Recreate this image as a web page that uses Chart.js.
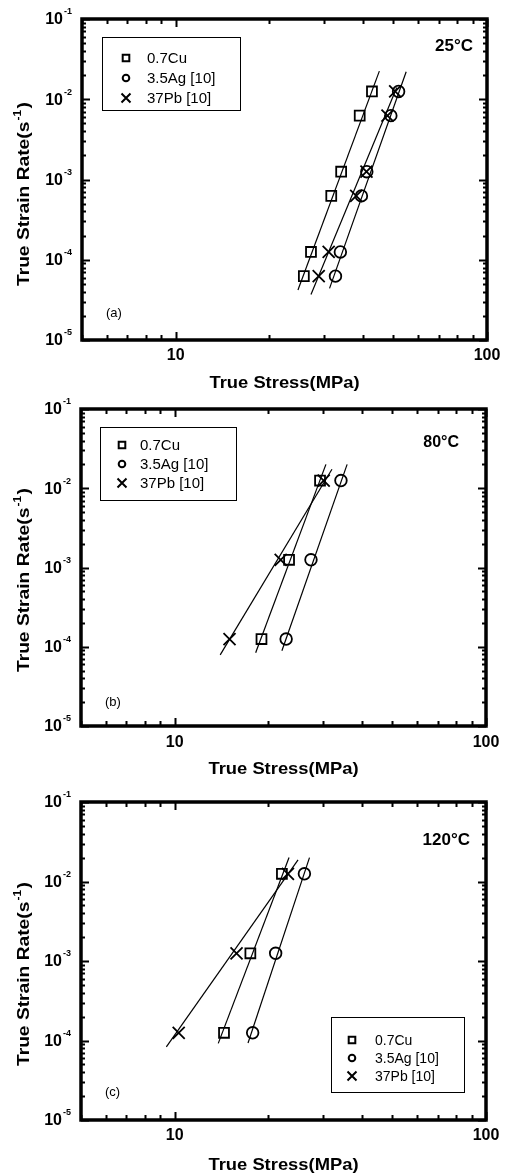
<!DOCTYPE html>
<html>
<head>
<meta charset="utf-8">
<script src="https://cdn.jsdelivr.net/npm/chart.js@4.4.1/dist/chart.umd.min.js"></script>
<style>
  body { margin: 0; background: #fff; width: 505px; height: 1174px; position: relative; overflow: hidden; }
  canvas { position: absolute; left: 0; }
</style>
</head>
<body>
<canvas id="panelA" width="505" height="391" style="top:0px"></canvas>
<canvas id="panelB" width="505" height="391" style="top:391px"></canvas>
<canvas id="panelC" width="505" height="392" style="top:782px"></canvas>
<script>
// series names / markers
const seriesLabels = ['0.7Cu', '3.5Ag [10]', '37Pb [10]'];
const seriesStyles = ['rect', 'circle', 'crossRot'];

// axis ticks
const yTickExps = [-1, -2, -3, -4, -5];
const xTickLabels = [10, 100];

// (a) 25C  strain rate (1/s) vs stress (MPa)
const ratesA = [1.25e-2, 6.25e-3, 1.25e-3, 6.25e-4, 1.25e-4, 6.25e-5];
const cuStressA = [42.7, 39.0, 34.0, 31.6, 27.2, 25.8];
const agStressA = [52.0, 49.1, 41.1, 39.5, 33.8, 32.6];
const pbStressA = [50.7, 47.9, 41.0, 38.0, 31.0, 28.8];
// fitted lines: [low end, high end] for Cu, Ag, Pb
const fitStressA = [[24.7, 45.1], [31.2, 55.0], [27.2, 51.3]];
const fitRateA = [[4.2e-5, 2.24e-2], [4.4e-5, 2.2e-2], [3.7e-5, 1.4e-2]];

// (b) 80C
const ratesB = [1.25e-2, 1.25e-3, 1.25e-4];
const cuStressB = [29.3, 23.3, 19.0];
const agStressB = [34.2, 27.4, 22.8];
const pbStressB = [30.1, 21.9, 15.0];
const fitStressB = [[18.2, 30.6], [22.1, 35.8], [14.0, 32.0]];
const fitRateB = [[8.4e-5, 2.0e-2], [8.9e-5, 2.0e-2], [7.9e-5, 1.74e-2]];

// (c) 120C
const ratesC = [1.25e-2, 1.25e-3, 1.25e-4];
const cuStressC = [22.1, 17.5, 14.4];
const agStressC = [26.1, 21.1, 17.8];
const pbStressC = [23.1, 15.8, 10.3];
const fitStressC = [[13.8, 23.3], [17.2, 27.1], [9.4, 24.9]];
const fitRateC = [[9.2e-5, 2.0e-2], [9.3e-5, 2.0e-2], [8.3e-5, 1.87e-2]];

const FONT = '"Liberation Sans", Arial, sans-serif';

function pts(xs, ys) {
  return xs.map((v, i) => ({ x: v, y: ys[i] }));
}

function drawMarker(ctx, style, x, y, r) {
  ctx.beginPath();
  if (style === 'rect') {
    ctx.rect(x - r, y - r, 2 * r, 2 * r);
  } else if (style === 'circle') {
    ctx.arc(x, y, r, 0, Math.PI * 2);
  } else {
    ctx.moveTo(x - r, y - r); ctx.lineTo(x + r, y + r);
    ctx.moveTo(x + r, y - r); ctx.lineTo(x - r, y + r);
  }
  ctx.stroke();
}

// frame, inward ticks, labels, legend box, panel texts
const paperAxes = {
  id: 'paperAxes',
  afterDraw(chart, args, o) {
    const { ctx, chartArea: a, scales: { x, y } } = chart;
    ctx.save();
    ctx.strokeStyle = '#000';
    ctx.fillStyle = '#000';

    // y ticks (left + right)
    ctx.lineWidth = 2;
    for (let e = -5; e <= -1; e++) {
      for (let m = 1; m <= 9; m++) {
        const v = m * Math.pow(10, e);
        if (v > 0.1 + 1e-12) break;
        const py = Math.round(y.getPixelForValue(v)) + 0.5;
        const len = m === 1 ? 8 : 4;
        ctx.beginPath();
        ctx.moveTo(a.left, py); ctx.lineTo(a.left + len, py);
        ctx.moveTo(a.right, py); ctx.lineTo(a.right - len, py);
        ctx.stroke();
      }
    }
    // x ticks (bottom + top)
    const xt = [5, 6, 7, 8, 9, 10, 20, 30, 40, 50, 60, 70, 80, 90, 100];
    xt.forEach(v => {
      const px = Math.round(x.getPixelForValue(v)) + 0.5;
      const len = (v === 10 || v === 100) ? 8 : 5;
      ctx.beginPath();
      ctx.moveTo(px, a.bottom); ctx.lineTo(px, a.bottom - len);
      ctx.moveTo(px, a.top); ctx.lineTo(px, a.top + len);
      ctx.stroke();
    });

    // frame
    ctx.lineWidth = 3.5;
    ctx.strokeRect(a.left, a.top, a.right - a.left, a.bottom - a.top);

    // y tick labels 10^-n
    ctx.textBaseline = 'middle';
    yTickExps.forEach(e => {
      const py = y.getPixelForValue(Math.pow(10, e));
      ctx.font = 'bold 16px ' + FONT;
      ctx.textAlign = 'right';
      ctx.fillText('10', a.left - 19, py + 1);
      ctx.font = 'bold 9px ' + FONT;
      ctx.textAlign = 'left';
      ctx.fillText('-' + (-e), a.left - 18, py - 7);
    });

    // x tick labels
    ctx.font = 'bold 16px ' + FONT;
    ctx.textAlign = 'center';
    xTickLabels.forEach(v => {
      ctx.fillText(String(v), x.getPixelForValue(v), a.bottom + o.xLabelGap);
    });

    // axis titles
    ctx.save();
    ctx.translate((a.left + a.right) / 2, a.bottom + o.xTitleGap);
    ctx.scale(1.08, 1);
    ctx.font = 'bold 17px ' + FONT;
    ctx.fillText('True Stress(MPa)', 0, 0);
    ctx.restore();

    ctx.save();
    ctx.translate(25, a.bottom - 54);
    ctx.rotate(-Math.PI / 2);
    ctx.scale(1.2, 1);
    ctx.textAlign = 'left';
    ctx.font = 'bold 16px ' + FONT;
    const t1 = 'True Strain Rate(s';
    ctx.fillText(t1, 0, 0);
    let w = ctx.measureText(t1).width;
    ctx.font = 'bold 10px ' + FONT;
    ctx.fillText('-1', w + 1, -7);
    w += ctx.measureText('-1').width + 2;
    ctx.font = 'bold 16px ' + FONT;
    ctx.fillText(')', w, 0);
    ctx.restore();

    // temperature + panel tag
    ctx.font = 'bold ' + o.tempSize + 'px ' + FONT;
    ctx.textAlign = 'right';
    ctx.fillText(o.temp, o.tempX, o.tempY);
    ctx.font = '13px ' + FONT;
    ctx.textAlign = 'left';
    ctx.fillText(o.tag, a.left + 24, o.tagY);

    // legend box
    const L = o.legend;
    ctx.lineWidth = 1;
    ctx.strokeRect(L.x + 0.5, L.y + 0.5, L.w, L.h);
    ctx.font = L.size + 'px ' + FONT;
    ctx.textAlign = 'left';
    seriesLabels.forEach((s, i) => {
      const ry = L.y + L.row0 + i * L.rowGap;
      ctx.lineWidth = 2;
      const r = seriesStyles[i] === 'crossRot' ? 4.5 : 3.3;
      drawMarker(ctx, seriesStyles[i], L.x + L.mx, ry, r);
      ctx.fillText(s, L.x + L.tx, ry + 1);
    });
    ctx.restore();
  }
};

function makePanel(id, pad, cu, ag, pb, rates, fitS, fitR, extra) {
  const stresses = [cu, ag, pb];
  const datasets = [];
  stresses.forEach((s, i) => {
    datasets.push({
      label: seriesLabels[i],
      data: pts(s, rates),
      pointStyle: seriesStyles[i],
      pointRadius: i === 0 ? 7 : (i === 1 ? 5.8 : 8.5),
      pointBorderWidth: 1.8,
      pointBorderColor: '#000',
      pointBackgroundColor: 'rgba(0,0,0,0)',
      showLine: false
    });
  });
  fitS.forEach((s, i) => {
    datasets.push({
      label: seriesLabels[i] + ' fit',
      data: pts(s, fitR[i]),
      showLine: true,
      borderColor: '#000',
      borderWidth: 1.2,
      pointRadius: 0
    });
  });
  return new Chart(document.getElementById(id).getContext('2d'), {
    type: 'scatter',
    data: { datasets },
    options: {
      responsive: false,
      animation: false,
      devicePixelRatio: 1,
      events: [],
      layout: { padding: pad },
      scales: {
        x: { type: 'logarithmic', min: 5, max: 100, display: false },
        y: { type: 'logarithmic', min: 1e-5, max: 1e-1, display: false }
      },
      plugins: {
        legend: { display: false },
        tooltip: { enabled: false },
        paperAxes: extra
      }
    },
    plugins: [paperAxes]
  });
}

makePanel('panelA', { left: 82, right: 18, top: 19, bottom: 51 },
  cuStressA, agStressA, pbStressA, ratesA, fitStressA, fitRateA, {
    xLabelGap: 16, xTitleGap: 43, temp: '25°C', tempSize: 17, tempX: 473, tempY: 46,
    tag: '(a)', tagY: 313,
    legend: { x: 102, y: 37, w: 138, h: 73, mx: 24, tx: 45, row0: 21, rowGap: 20, size: 15 }
  });

makePanel('panelB', { left: 81, right: 19, top: 18, bottom: 56 },
  cuStressB, agStressB, pbStressB, ratesB, fitStressB, fitRateB, {
    xLabelGap: 17, xTitleGap: 43, temp: '80°C', tempSize: 16, tempX: 459, tempY: 52,
    tag: '(b)', tagY: 311,
    legend: { x: 100, y: 36, w: 136, h: 73, mx: 22, tx: 40, row0: 18, rowGap: 19, size: 15 }
  });

makePanel('panelC', { left: 81, right: 19, top: 20, bottom: 54 },
  cuStressC, agStressC, pbStressC, ratesC, fitStressC, fitRateC, {
    xLabelGap: 16, xTitleGap: 45, temp: '120°C', tempSize: 17, tempX: 470, tempY: 58,
    tag: '(c)', tagY: 310,
    legend: { x: 331, y: 235, w: 133, h: 75, mx: 21, tx: 44, row0: 23, rowGap: 18, size: 14 }
  });
</script>
</body>
</html>
